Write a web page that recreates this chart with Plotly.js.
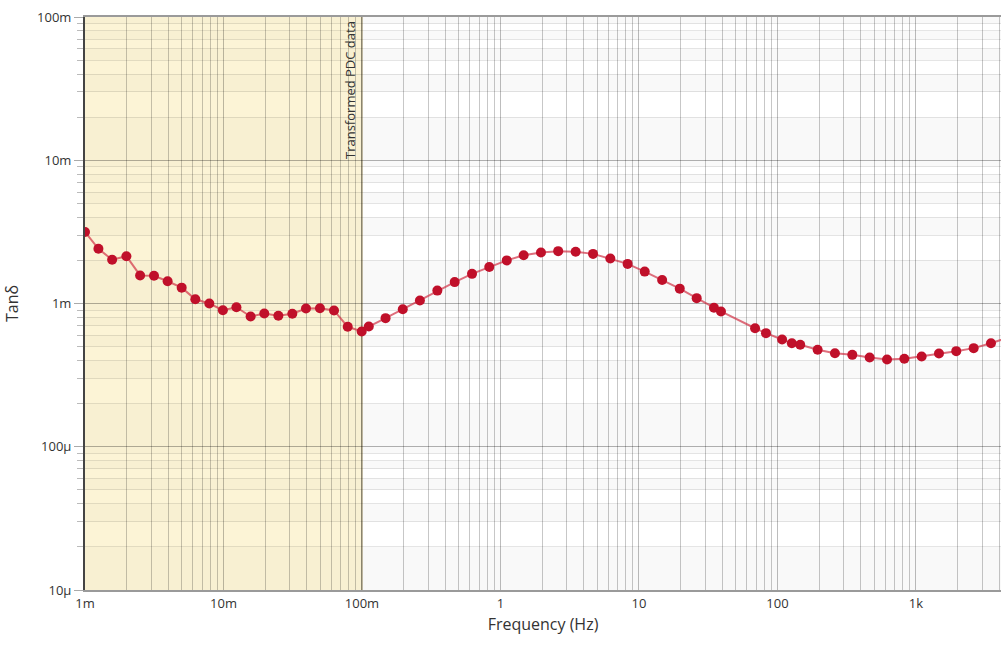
<!DOCTYPE html>
<html>
<head>
<meta charset="utf-8">
<script src="https://cdn.plot.ly/plotly-3.0.1.min.js"></script>
<style>html,body{margin:0;padding:0;background:#fff;}#chart{width:1002px;height:646px;}</style>
</head>
<body>
<div id="chart"></div>
<script>
// Frequency (Hz)
const freq = [
  0.001, 0.00125, 0.00157, 0.00199, 0.0025, 0.00315, 0.00395, 0.00499, 0.00626, 0.0079,
  0.0099, 0.0124, 0.0157, 0.0197, 0.0249, 0.0314, 0.0394, 0.0497, 0.0628, 0.0789,
  0.0995, 0.112, 0.148, 0.197, 0.262, 0.350, 0.467, 0.623, 0.830, 1.11,
  1.47, 1.96, 2.61, 3.49, 4.66, 6.21, 8.28, 11.0, 14.7, 19.7,
  26.1, 34.8, 39.1, 68.9, 82.6, 108, 127, 146, 195, 260,
  347, 463, 618, 824, 1099, 1466, 1954, 2610, 3480, 4640
];
// Tan delta values
const tanDelta = [
  3.16e-3, 2.41e-3, 2.02e-3, 2.14e-3, 1.57e-3, 1.56e-3, 1.43e-3, 1.29e-3, 1.07e-3, 1.00e-3,
  0.898e-3, 0.942e-3, 0.811e-3, 0.851e-3, 0.821e-3, 0.848e-3, 0.923e-3, 0.927e-3, 0.894e-3, 0.688e-3,
  0.638e-3, 0.691e-3, 0.79e-3, 0.912e-3, 1.05e-3, 1.23e-3, 1.41e-3, 1.61e-3, 1.80e-3, 2.00e-3,
  2.17e-3, 2.27e-3, 2.32e-3, 2.30e-3, 2.22e-3, 2.06e-3, 1.89e-3, 1.67e-3, 1.46e-3, 1.27e-3,
  1.09e-3, 0.933e-3, 0.880e-3, 0.672e-3, 0.621e-3, 0.561e-3, 0.528e-3, 0.515e-3, 0.475e-3, 0.450e-3,
  0.438e-3, 0.420e-3, 0.407e-3, 0.411e-3, 0.427e-3, 0.448e-3, 0.465e-3, 0.488e-3, 0.528e-3, 0.580e-3
];
const xTickVals = [0.001, 0.01, 0.1, 1, 10, 100, 1000];
const xTickText = ['1m', '10m', '100m', '1', '10', '100', '1k'];
const yTickVals = [1e-5, 1e-4, 1e-3, 1e-2, 1e-1];
const yTickText = ['10µ', '100µ', '1m', '10m', '100m'];
const pdcLimit = 0.1;      // transformed PDC data upper frequency
const pdcLabel = 'Transformed PDC data';

function minorVals(lo, hi) {
  const out = [];
  for (let d = lo; d < hi; d++) for (let n = 2; n <= 9; n++) out.push(n * Math.pow(10, d));
  return out;
}
const xMinor = minorVals(-3, 4);
const yMinor = minorVals(-5, -1);

const xRange = [-3, 3.614];
const yRange = [-5, -1];
// fraction of the plot area for a value on a log axis
const xFrac = v => (Math.log10(v) - xRange[0]) / (xRange[1] - xRange[0]);
const yFrac = v => (Math.log10(v) - yRange[0]) / (yRange[1] - yRange[0]);

const shapes = [];
// subtle alternating horizontal bands
for (let d = -5; d < -1; d++) {
  for (let n = 1; n <= 9; n += 2) {
    shapes.push({type: 'rect', layer: 'between', xref: 'paper', yref: 'paper',
      x0: 0, x1: 1,
      y0: yFrac(n * Math.pow(10, d)), y1: yFrac((n + 1) * Math.pow(10, d)),
      fillcolor: 'rgba(0,0,0,0.022)', line: {width: 0}});
  }
}
// PDC region
shapes.push({type: 'rect', layer: 'between', xref: 'paper', yref: 'paper',
  x0: 0, x1: xFrac(pdcLimit), y0: 0, y1: 1,
  fillcolor: 'rgba(246,224,140,0.36)', line: {width: 0}});
shapes.push({type: 'line', layer: 'between', xref: 'paper', yref: 'paper',
  x0: xFrac(pdcLimit), x1: xFrac(pdcLimit), y0: 0, y1: 1,
  line: {color: '#a89f80', width: 1.5}});

const font = "'Open Sans', 'Noto Sans', sans-serif";

const trace = {
  x: freq, y: tanDelta, type: 'scatter', mode: 'lines+markers',
  line: {color: 'rgba(210,50,70,0.7)', width: 2},
  marker: {color: '#c0102a', size: 10},
  hoverinfo: 'x+y'
};

const layout = {
  width: 1002, height: 646,
  margin: {l: 85, r: 1, t: 17, b: 56},
  paper_bgcolor: '#ffffff', plot_bgcolor: '#ffffff',
  showlegend: false,
  font: {family: font, color: '#333', size: 13},
  xaxis: {
    type: 'log', range: xRange,
    tickvals: xTickVals, ticktext: xTickText,
    ticks: '', showgrid: true, gridcolor: 'rgba(0,0,0,0.26)', gridwidth: 1,
    showline: true, linecolor: '#9a9a9a', linewidth: 2, mirror: true,
    zeroline: false,
    tickfont: {family: font, size: 13, color: '#333'},
    minor: {tickvals: xMinor, showgrid: true, gridcolor: 'rgba(0,0,0,0.22)', gridwidth: 1, ticks: ''},
    title: {text: 'Frequency (Hz)', font: {family: font, size: 16, color: '#333'}, standoff: 8}
  },
  yaxis: {
    type: 'log', range: yRange,
    tickvals: yTickVals, ticktext: yTickText,
    ticks: 'outside', ticklen: 9, tickcolor: '#aaaaaa', tickwidth: 1,
    showgrid: true, gridcolor: 'rgba(0,0,0,0.3)', gridwidth: 1,
    showline: true, linecolor: '#444', linewidth: 2,
    zeroline: false,
    tickfont: {family: font, size: 13, color: '#333'},
    minor: {tickvals: yMinor, showgrid: true, gridcolor: 'rgba(0,0,0,0.1)', gridwidth: 1,
            ticks: 'outside', ticklen: 6, tickcolor: '#bbbbbb'},
    title: {text: 'Tanδ', font: {family: font, size: 16, color: '#333'}, standoff: 14}
  },
  shapes: shapes,
  annotations: [{
    text: pdcLabel, xref: 'x', yref: 'paper',
    x: Math.log10(pdcLimit), y: 1, xanchor: 'right', yanchor: 'top',
    textangle: -90, showarrow: false, xshift: -1, yshift: -2,
    font: {family: font, size: 13, color: '#333'}
  }]
};

Plotly.newPlot('chart', [trace], layout, {displayModeBar: false, staticPlot: true});
</script>
</body>
</html>
